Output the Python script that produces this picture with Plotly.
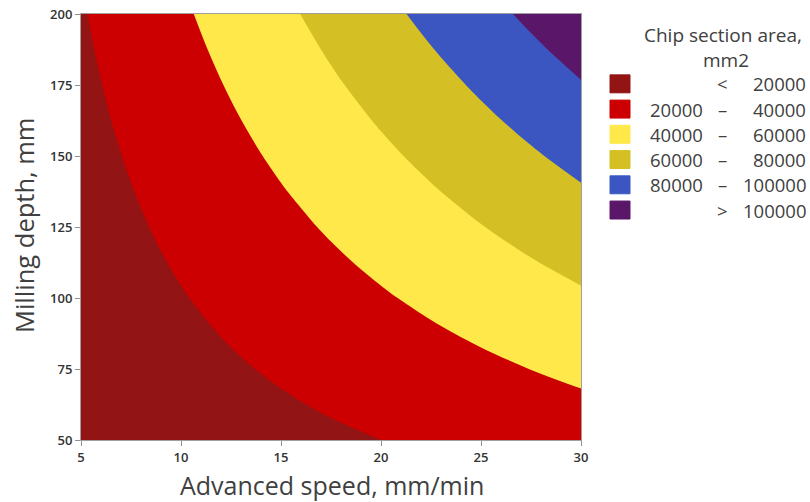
import plotly.graph_objects as go

# ---- data ----
speed = [5, 7.5, 10, 12.5, 15, 17.5, 20, 22.5, 25, 27.5, 30]          # Advanced speed, mm/min
depth = [50, 62.5, 75, 87.5, 100, 112.5, 125, 137.5, 150, 162.5, 175, 187.5, 200]  # Milling depth, mm

# Chip section area (rows follow depth, columns follow speed)
area = [
    [5000, 7500, 10000, 12500, 15000, 17500, 20000, 22500, 25000, 27500, 30000],
    [6150, 9225, 12300, 15375, 18450, 21525, 24600, 27675, 30750, 33825, 36900],
    [7300, 10950, 14600, 18250, 21900, 25550, 29200, 32850, 36500, 40150, 43800],
    [8450, 12675, 16900, 21125, 25350, 29575, 33800, 38025, 42250, 46475, 50700],
    [9600, 14400, 19200, 24000, 28800, 33600, 38400, 43200, 48000, 52800, 57600],
    [10750, 16125, 21500, 26875, 32250, 37625, 43000, 48375, 53750, 59125, 64500],
    [11900, 17850, 23800, 29750, 35700, 41650, 47600, 53550, 59500, 65450, 71400],
    [13050, 19575, 26100, 32625, 39150, 45675, 52200, 58725, 65250, 71775, 78300],
    [14200, 21300, 28400, 35500, 42600, 49700, 56800, 63900, 71000, 78100, 85200],
    [15350, 23025, 30700, 38375, 46050, 53725, 61400, 69075, 76750, 84425, 92100],
    [16500, 24750, 33000, 41250, 49500, 57750, 66000, 74250, 82500, 90750, 99000],
    [17650, 26475, 35300, 44125, 52950, 61775, 70600, 79425, 88250, 97075, 105900],
    [18800, 28200, 37600, 47000, 56400, 65800, 75200, 84600, 94000, 103400, 112800],
]

levels = [20000, 40000, 60000, 80000, 100000]
band_colors = ["#921414", "#CC0000", "#FFE84A", "#D4C024", "#3B56C0", "#5A1668"]

x_ticks = [5, 10, 15, 20, 25, 30]
y_ticks = [50, 75, 100, 125, 150, 175, 200]

# ---- layout geometry (pixels) ----
W, H = 810, 502
L, R, T, B = 81, 581, 13.5, 440.5


def px(xp):
    return (xp - L) / (R - L)


def py(yp):
    return (B - yp) / (B - T)


TXT = "#404040"
FONT = "Open Sans"

n = len(band_colors)
colorscale = [[i / (n - 1), c] for i, c in enumerate(band_colors)]

fig = go.Figure()
fig.add_trace(go.Contour(
    x=speed, y=depth, z=area,
    contours=dict(start=levels[0], end=levels[-1], size=levels[1] - levels[0],
                  coloring="fill", showlines=False),
    colorscale=colorscale,
    showscale=False,
    line=dict(width=0, smoothing=1.0),
    hoverinfo="x+y+z",
))

axis_common = dict(
    showline=True, linecolor="#A0A0A0", linewidth=1, mirror=True,
    ticks="outside", ticklen=5, tickcolor="#909090", tickwidth=1,
    showgrid=False, zeroline=False, automargin=False,
    tickfont=dict(family=FONT, size=13, color="#333333", weight=600),
)

fig.update_layout(
    width=W, height=H,
    margin=dict(l=L, r=W - R, t=T, b=H - B, pad=0, autoexpand=False),
    paper_bgcolor="white", plot_bgcolor="white",
    showlegend=False,
    xaxis=dict(range=[speed[0], speed[-1]], tickvals=x_ticks, **axis_common),
    yaxis=dict(range=[depth[0], depth[-1]], tickvals=y_ticks, **axis_common),
    font=dict(family=FONT, color=TXT),
)

ann = []
# axis titles
ann.append(dict(text="Advanced speed, mm/min", x=px(332), y=py(486), xref="paper", yref="paper",
                xanchor="center", yanchor="middle", showarrow=False,
                font=dict(family=FONT, size=25, color=TXT)))
ann.append(dict(text="Milling depth, mm", x=px(24), y=py(226), xref="paper", yref="paper",
                xanchor="center", yanchor="middle", textangle=-90, showarrow=False,
                font=dict(family=FONT, size=25.5, color=TXT)))

# legend title
ann.append(dict(text="Chip section area,", x=px(723), y=py(35), xref="paper", yref="paper",
                xanchor="center", yanchor="middle", showarrow=False,
                font=dict(family=FONT, size=19, color=TXT)))
ann.append(dict(text="mm2", x=px(726), y=py(60), xref="paper", yref="paper",
                xanchor="center", yanchor="middle", showarrow=False,
                font=dict(family=FONT, size=19, color=TXT)))

shapes = []
row_y0 = 83.5
row_dy = 25.3
for i, c in enumerate(band_colors):
    yc = row_y0 + i * row_dy
    shapes.append(dict(type="rect", xref="paper", yref="paper",
                       x0=px(610), x1=px(630), y0=py(yc + 9), y1=py(yc - 9),
                       fillcolor=c, line=dict(color=c, width=1)))
    if i == 0:
        lo, sym, hi = "", "<", f"{levels[0]}"
    elif i == n - 1:
        lo, sym, hi = "", ">", f"{levels[-1]}"
    else:
        lo, sym, hi = f"{levels[i - 1]}", "–", f"{levels[i]}"
    f = dict(family=FONT, size=18.5, color=TXT)
    if lo:
        ann.append(dict(text=lo, x=px(705), y=py(yc), xref="paper", yref="paper",
                        xanchor="right", yanchor="middle", showarrow=False, font=f))
    ann.append(dict(text=sym, x=px(722), y=py(yc), xref="paper", yref="paper",
                    xanchor="center", yanchor="middle", showarrow=False, font=f))
    ann.append(dict(text=hi, x=px(808), y=py(yc), xref="paper", yref="paper",
                    xanchor="right", yanchor="middle", showarrow=False, font=f))

fig.update_layout(annotations=ann, shapes=shapes)

fig.write_html(
    "out.html",
    config={"displayModeBar": False},
    post_script="document.body.style.margin='0';document.body.style.padding='0';"
                "document.documentElement.style.margin='0';"
                "document.body.style.overflow='hidden';",
)
